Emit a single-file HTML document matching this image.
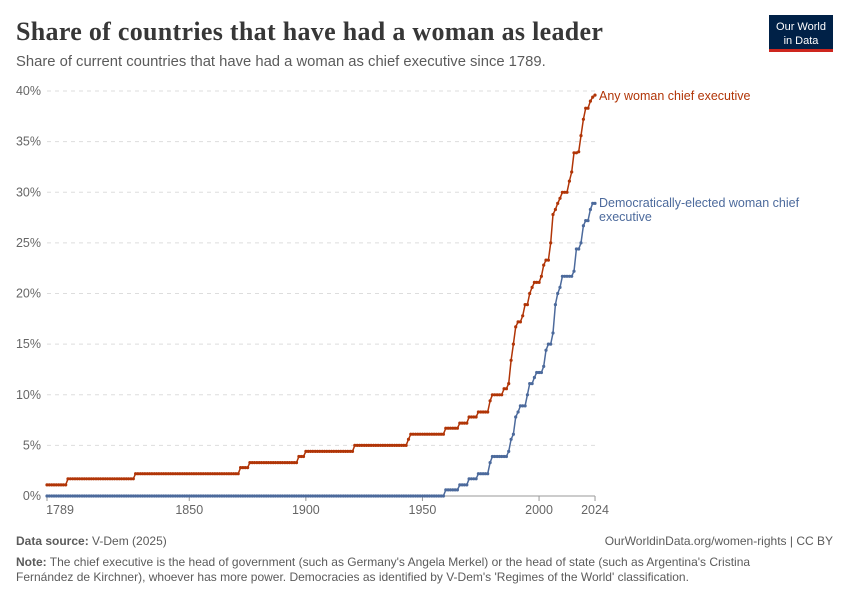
<!DOCTYPE html>
<html><head><meta charset="utf-8"><style>
body{margin:0;background:#fff;width:850px;height:600px;overflow:hidden;font-family:"Liberation Sans",sans-serif}
svg{position:absolute;left:0;top:0}
</style></head><body>
<svg id="s" width="850" height="600" xmlns="http://www.w3.org/2000/svg">
<text x="16" y="40" font-family="Liberation Serif,serif" font-size="26" font-weight="bold" fill="#373737" letter-spacing="0.3">Share of countries that have had a woman as leader</text>
<text x="16" y="66" font-size="14.8" fill="#5b5b5b">Share of current countries that have had a woman as chief executive since 1789.</text>
<rect x="769" y="15" width="64" height="36" fill="#002147"/>
<rect x="769" y="49" width="64" height="3" fill="#ce261e"/>
<text x="801" y="30" font-size="11" fill="#fff" text-anchor="middle">Our World</text>
<text x="801" y="44" font-size="11" fill="#fff" text-anchor="middle">in Data</text>
<g id="grid"></g>
<g id="lines"></g>
<text x="599" y="100" font-size="12.5" fill="#b13507">Any woman chief executive</text>
<text x="599" y="207" font-size="12.5" fill="#4c6a9c">Democratically-elected woman chief</text>
<text x="599" y="221" font-size="12.5" fill="#4c6a9c">executive</text>
<text x="16" y="545" font-size="12" fill="#5b5b5b"><tspan font-weight="bold">Data source:</tspan> V-Dem (2025)</text>
<text x="833" y="545" font-size="12" fill="#5b5b5b" text-anchor="end">OurWorldinData.org/women-rights | CC BY</text>
<text x="16" y="566" font-size="12" fill="#5b5b5b"><tspan font-weight="bold">Note:</tspan> The chief executive is the head of government (such as Germany's Angela Merkel) or the head of state (such as Argentina's Cristina</text>
<text x="16" y="581" font-size="12" fill="#5b5b5b">Fernández de Kirchner), whoever has more power. Democracies as identified by V-Dem's 'Regimes of the World' classification.</text>
</svg>
<script>
const X=y=>47+(y-1789)*2.332, Y=v=>496-v*10.125;
let g='';
for(let i=0;i<=8;i++){const yy=Y(i*5);
g+=`<line x1="47" x2="595" y1="${yy}" y2="${yy}" stroke="#ddd" stroke-dasharray="4,4" ${i==0?'style="display:none"':''}/>`;
g+=`<text x="41" y="${yy+4}" font-size="12.5" fill="#666" text-anchor="end">${i*5}%</text>`;}
g+=`<line x1="47" x2="595" y1="496" y2="496" stroke="#999"/>`;
[[1789,'1789'],[1850,'1850'],[1900,'1900'],[1950,'1950'],[2000,'2000'],[2024,'2024']].forEach(([y,t])=>{
g+=`<line x1="${X(y)}" x2="${X(y)}" y1="496" y2="501" stroke="#999"/><text x="${X(y)+(y==1789?13:0)}" y="514" font-size="12.5" fill="#666" text-anchor="middle">${t}</text>`;});
document.getElementById('grid').innerHTML=g;
const red=[[1789,1.1],[1798,1.7],[1827,2.2],[1872,2.8],[1876,3.3],[1897,3.9],[1900,4.4],[1921,5.0],[1944,5.6],[1945,6.1],[1960,6.7],[1966,7.2],[1970,7.8],[1974,8.3],[1979,9.4],[1980,10],[1985,10.6],[1987,11.1],[1988,13.4],[1989,15],[1990,16.7],[1991,17.2],[1993,17.8],[1994,18.9],[1996,20],[1997,20.6],[1998,21.1],[2001,21.7],[2002,22.8],[2003,23.3],[2005,25],[2006,27.8],[2007,28.3],[2008,28.9],[2009,29.4],[2010,30],[2013,31.1],[2014,32],[2015,33.9],[2017,34],[2018,35.6],[2019,37.2],[2020,38.3],[2022,39],[2023,39.4],[2024,39.6]];
const blue=[[1789,0],[1960,0.6],[1966,1.1],[1970,1.7],[1974,2.2],[1979,3.3],[1980,3.9],[1987,4.4],[1988,5.6],[1989,6.1],[1990,7.8],[1991,8.3],[1992,8.9],[1995,10],[1996,11.1],[1998,11.7],[1999,12.2],[2002,12.8],[2003,14.4],[2004,15],[2006,16.1],[2007,18.9],[2008,20],[2009,20.6],[2010,21.7],[2015,22.2],[2016,24.4],[2018,25],[2019,26.7],[2020,27.2],[2022,28.3],[2023,28.9],[2024,28.9]];
function val(d,y){let v=d[0][1];for(const [a,b] of d){if(a<=y)v=b;}return v;}
function series(d,c){let pts=[],dots='';for(let y=1789;y<=2024;y++){const v=val(d,y);pts.push(X(y).toFixed(1)+','+Y(v).toFixed(1));dots+=`<circle cx="${X(y).toFixed(1)}" cy="${Y(v).toFixed(1)}" r="1.6" fill="${c}"/>`;}
return `<polyline points="${pts.join(' ')}" fill="none" stroke="${c}" stroke-width="1.5"/>`+dots;}
document.getElementById('lines').innerHTML=series(blue,'#4c6a9c')+series(red,'#b13507');
</script>
</body></html>
